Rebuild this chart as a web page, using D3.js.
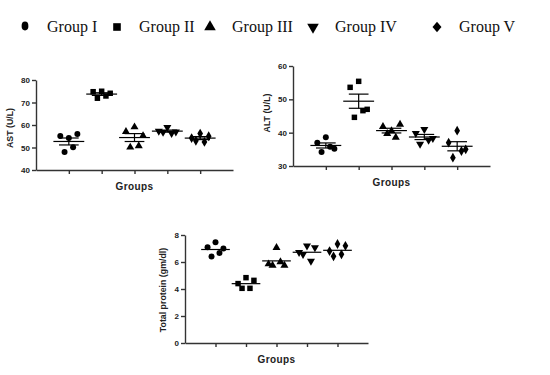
<!DOCTYPE html>
<html>
<head>
<meta charset="utf-8">
<script src="https://cdn.jsdelivr.net/npm/d3@7"></script>
<style>
  body { margin: 0; background: #fff; }
  svg { display: block; }
  .tick text { font-family: "Liberation Sans", Arial, sans-serif; font-weight: bold; font-size: 8px; fill: #222; }
</style>
</head>
<body>
<script>
// group names and symbols
groups = ["Group I", "Group II", "Group III", "Group IV", "Group V"]
shapes = [d3.symbolCircle, d3.symbolSquare, d3.symbolTriangle, d3.symbolTriangle, d3.symbolDiamond]
flipped = [false, false, false, true, false]

// values per group
ast = [
  [55.1, 54.2, 56.0, 50.1, 48.0],
  [74.8, 75.0, 74.1, 72.9, 71.9],
  [57.0, 59.1, 55.2, 50.7, 50.1],
  [57.3, 59.0, 57.0, 56.3, 56.8],
  [54.2, 56.2, 55.0, 52.5, 53.0]
]
alt = [
  [37.0, 38.6, 35.2, 35.8, 34.2],
  [53.6, 55.4, 47.0, 46.6, 44.6],
  [41.8, 40.5, 42.5, 38.6, 39.7],
  [39.8, 41.0, 38.3, 37.8, 36.6],
  [37.0, 40.6, 35.0, 34.5, 32.5]
]
protein = [
  [7.10, 7.46, 7.00, 6.67, 6.40],
  [4.40, 4.84, 4.64, 4.05, 4.05],
  [5.85, 7.06, 5.75, 6.00, 5.75],
  [6.72, 7.19, 7.06, 6.07, 6.57],
  [6.81, 7.33, 7.20, 6.57, 6.42]
]

astTicks = [40, 50, 60, 70, 80]
altTicks = [30, 40, 50, 60]
proteinTicks = [0, 2, 4, 6, 8]

// spread of the five dots around the group centre (fraction of step)
spread = [-0.26, 0, 0.26, 0.13, -0.13]

var svg = d3.select("body").append("svg")
    .attr("width", 550)
    .attr("height", 375)

// legend (diamond drawn as a turned square, a bit taller)
legendX = [25, 117, 210, 313, 437]
var leg = svg.append("g")
leg.selectAll("path")
    .data(groups)
    .enter().append("path")
    .attr("d", (d, i) => i == 4 ? d3.symbol(d3.symbolSquare, 40)() : d3.symbol(shapes[i], i == 0 ? 50 : 58)())
    .attr("transform", (d, i) => `translate(${legendX[i]},${i == 0 ? 26 : 27})` +
        (flipped[i] ? " rotate(180)" : "") +
        (i == 0 ? " scale(0.85,1.1)" : "") +
        (i == 4 ? " scale(1,1.15) rotate(45)" : ""))
    .attr("fill", "#000")
leg.selectAll("text")
    .data(groups)
    .enter().append("text")
    .attr("x", (d, i) => legendX[i] + 22)
    .attr("y", 32)
    .attr("font-family", "'Liberation Serif', 'Times New Roman', serif")
    .attr("font-size", 16)
    .attr("fill", "#111")
    .text(d => d)

function panel(data, opt) {
    var g = svg.append("g")

    x = d3.scalePoint()
        .domain(groups)
        .range([opt.left, opt.right])
        .padding(1)

    y = d3.scaleLinear()
        .domain(opt.domain)
        .range([opt.bottom, opt.top])

    var step = x.step()

    g.append("g")
        .attr("transform", `translate(0,${opt.bottom})`)
        .call(d3.axisBottom(x).tickSizeOuter(0).tickSizeInner(4).tickFormat(""))
        .call(a => a.selectAll("line, path").attr("stroke", "#333").attr("stroke-width", 1.4))

    g.append("g")
        .attr("transform", `translate(${opt.left},0)`)
        .call(d3.axisLeft(y).tickValues(opt.ticks).tickSizeOuter(0).tickSizeInner(4).tickPadding(2))
        .call(a => a.selectAll("line, path").attr("stroke", "#333").attr("stroke-width", 1.4))

    data.forEach(function(vals, gi) {
        var cx = x(groups[gi])
        var m = d3.mean(vals)
        var sem = d3.deviation(vals) / Math.sqrt(vals.length)

        g.selectAll(null)
            .data(vals)
            .enter().append("path")
            .attr("d", d3.symbol(shapes[gi], gi == 1 ? 30 : 28))
            .attr("transform", (d, i) => `translate(${cx + spread[i] * step},${y(d)})` + (flipped[gi] ? " rotate(180)" : ""))
            .attr("fill", "#000")

        g.append("line")
            .attr("x1", cx - step * 0.47).attr("x2", cx + step * 0.47)
            .attr("y1", y(m)).attr("y2", y(m))
            .attr("stroke", "#000").attr("stroke-width", 1.2)

        if (opt.sem) {
            var cap = step * 0.3
            g.append("line")
                .attr("x1", cx).attr("x2", cx)
                .attr("y1", y(m - sem)).attr("y2", y(m + sem))
                .attr("stroke", "#000").attr("stroke-width", 1.2)
            ;[m - sem, m + sem].forEach(v => g.append("line")
                .attr("x1", cx - cap).attr("x2", cx + cap)
                .attr("y1", y(v)).attr("y2", y(v))
                .attr("stroke", "#000").attr("stroke-width", 1.2))
        }
    })

    g.append("text")
        .attr("x", (opt.left + opt.right) / 2)
        .attr("y", opt.bottom + 20)
        .attr("text-anchor", "middle")
        .attr("font-family", "'Liberation Sans', Arial, sans-serif")
        .attr("font-weight", "bold")
        .attr("font-size", 10)
        .attr("letter-spacing", 0.4)
        .attr("fill", "#222")
        .text("Groups")

    g.append("text")
        .attr("transform", `translate(${opt.labelX},${opt.labelY}) rotate(-90)`)
        .attr("text-anchor", "middle")
        .attr("font-family", "'Liberation Sans', Arial, sans-serif")
        .attr("font-weight", "bold")
        .attr("font-size", 8.8)
        .attr("fill", "#222")
        .text(opt.label)
}

panel(ast, { left: 36, right: 233, top: 80, bottom: 170, domain: [40, 80], ticks: astTicks, label: "AST (U/L)", labelX: 13, labelY: 128, sem: true })
panel(alt, { left: 293, right: 490, top: 66, bottom: 166, domain: [30, 60], ticks: altTicks, label: "ALT (U/L)", labelX: 270, labelY: 113, sem: true })
panel(protein, { left: 185, right: 368, top: 235, bottom: 343, domain: [0, 8], ticks: proteinTicks, label: "Total protein (gm/dl)", labelX: 166, labelY: 290, sem: false })
</script>
</body>
</html>
